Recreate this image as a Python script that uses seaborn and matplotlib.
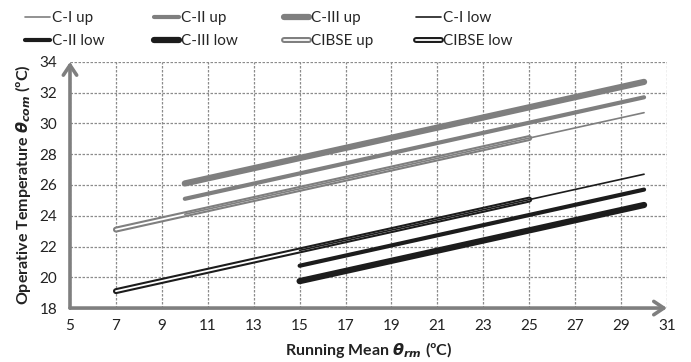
import matplotlib
matplotlib.use("Agg")
import matplotlib.pyplot as plt
import matplotlib.patheffects as pe
from matplotlib.ticker import MultipleLocator
import seaborn as sns
import pandas as pd

# Running mean outdoor temperature ranges for each limit line
x_up = [10, 30]
x_low = [15, 30]
x_cibse = [7, 25]

# Operative temperature limits (°C)
c1_up = [24.1, 30.7]
c2_up = [25.1, 31.7]
c3_up = [26.1, 32.7]
c1_low = [21.75, 26.7]
c2_low = [20.75, 25.7]
c3_low = [19.75, 24.7]
cibse_up = [23.1, 29.05]
cibse_low = [19.1, 25.05]

x_ticks = list(range(5, 32, 2))
y_ticks = list(range(18, 35, 2))

sns.set_theme(style="white")
plt.rcParams["font.family"] = ["Lato", "DejaVu Sans"]
plt.rcParams["mathtext.fontset"] = "custom"
plt.rcParams["mathtext.it"] = "DejaVu Sans:italic:bold"
plt.rcParams["mathtext.rm"] = "Lato:bold"

GRAY = "#7f7f7f"
BLACK = "#1c1c1c"

fig = plt.figure(figsize=(6.91, 3.62), dpi=100)
ax = fig.add_axes([0.1013, 0.149, 0.864, 0.680])

def draw(xs, ys, **kw):
    df = pd.DataFrame({"x": xs, "y": ys})
    sns.lineplot(data=df, x="x", y="y", ax=ax, legend=False,
                 solid_capstyle="round", **kw)
    return ax.lines[-1]

handles = {}
# CIBSE bands: hollow double lines
handles["CIBSE up"] = draw(x_cibse, cibse_up, color="white", lw=1.3, zorder=3,
                           path_effects=[pe.Stroke(linewidth=4.3, foreground=GRAY, capstyle="round"), pe.Normal()])
handles["CIBSE low"] = draw(x_cibse, cibse_low, color="white", lw=1.3, zorder=3,
                            path_effects=[pe.Stroke(linewidth=4.3, foreground=BLACK, capstyle="round"), pe.Normal()])
handles["C-I up"] = draw(x_up, c1_up, color=GRAY, lw=1.2, zorder=4)
handles["C-II up"] = draw(x_up, c2_up, color=GRAY, lw=3.0, zorder=4)
handles["C-III up"] = draw(x_up, c3_up, color=GRAY, lw=4.5, zorder=4)
handles["C-I low"] = draw(x_low, c1_low, color=BLACK, lw=1.2, zorder=4)
handles["C-II low"] = draw(x_low, c2_low, color=BLACK, lw=3.0, zorder=4)
handles["C-III low"] = draw(x_low, c3_low, color=BLACK, lw=4.5, zorder=4)

ax.set_xlim(5, 31)
ax.set_ylim(18, 34)
ax.set_xticks(x_ticks)
ax.set_yticks(y_ticks)
ax.xaxis.set_minor_locator(MultipleLocator(1))
ax.yaxis.set_minor_locator(MultipleLocator(1))
ax.grid(True, which="major", color="#8c8c8c", lw=0.9, linestyle=(0, (2, 1.2)))
ax.tick_params(which="both", direction="in", length=3, width=1.5, color=GRAY,
               labelsize=11, labelcolor="#222222")
ax.tick_params(axis="x", pad=8)
ax.tick_params(axis="y", pad=9)
for s in ax.spines.values():
    s.set_visible(False)

arrow = dict(arrowstyle="->,head_length=0.6,head_width=0.4", color=GRAY, lw=2.6,
             shrinkA=0, shrinkB=0)
ax.annotate("", xy=(5, 34), xytext=(5, 18), arrowprops=arrow, annotation_clip=False, zorder=5)
ax.annotate("", xy=(31, 18), xytext=(5, 18), arrowprops=arrow, annotation_clip=False, zorder=5)

ax.set_xlabel(r"Running Mean $\theta_{rm}$ (ºC)", fontsize=11.5, fontweight="bold",
              color="#222222", labelpad=5)
ax.set_ylabel(r"Operative Temperature $\theta_{com}$ (ºC)", fontsize=11.5, fontweight="bold",
              color="#222222", labelpad=5)

# Legend: four equally spaced columns of two entries each
columns = [["C-I up", "C-II low"], ["C-II up", "C-III low"],
           ["C-III up", "CIBSE up"], ["C-I low", "CIBSE low"]]
col_x = [22, 151, 281, 413]
for cx, labels in zip(col_x, columns):
    fig.legend([handles[l] for l in labels], labels, loc="upper left",
               bbox_to_anchor=(cx / 691, 1 - 8 / 362), frameon=False,
               fontsize=11, handlelength=1.65, handletextpad=0.12,
               labelspacing=0.6, borderaxespad=0, borderpad=0.2)

fig.savefig("out.png", dpi=100)
